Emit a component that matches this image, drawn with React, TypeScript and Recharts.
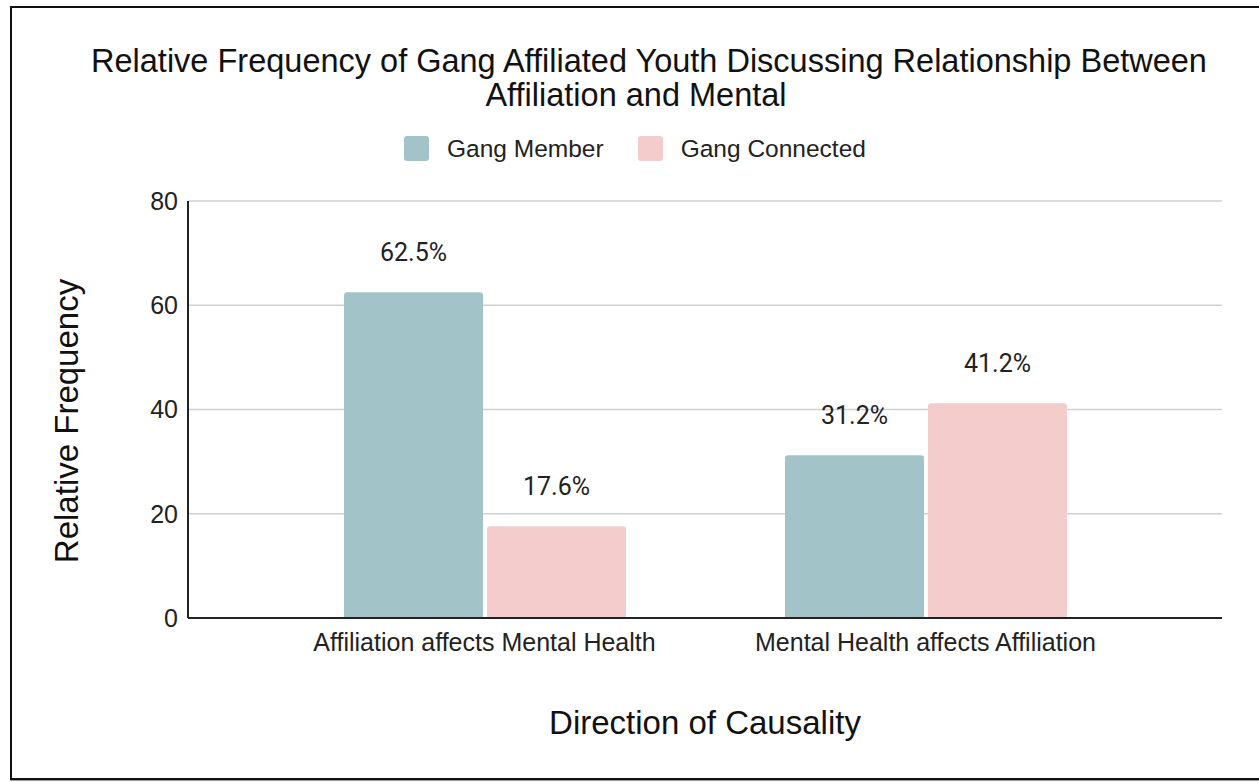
import { Bar, BarChart, CartesianGrid, LabelList, Legend, XAxis, YAxis } from "recharts";

const categories = ["Affiliation affects Mental Health", "Mental Health affects Affiliation"];
const gangMember = [62.5, 31.2];
const gangConnected = [17.6, 41.2];
const yTicks = [0, 20, 40, 60, 80];

const seriesNames = ["Gang Member", "Gang Connected"];
const seriesColors = ["#a2c4c9", "#f4cccc"];

const data = categories.map((name, i) => ({
  name,
  member: gangMember[i],
  connected: gangConnected[i],
}));

const SANS = "'Liberation Sans', Arial, sans-serif";

function LegendContent() {
  return (
    <div
      style={{
        display: "flex",
        justifyContent: "center",
        alignItems: "center",
        paddingLeft: 11,
        fontFamily: SANS,
        fontSize: 24.5,
        color: "#222",
      }}
    >
      {seriesNames.map((n, i) => (
        <div key={n} style={{ display: "flex", alignItems: "center", marginLeft: i ? 34 : 0 }}>
          <span
            style={{
              width: 25,
              height: 25,
              borderRadius: 3,
              background: seriesColors[i],
              marginRight: 18,
              display: "inline-block",
            }}
          />
          <span>{n}</span>
        </div>
      ))}
    </div>
  );
}

export default function App() {
  return (
    <div style={{ position: "fixed", left: 0, top: 0, width: 1259, height: 782, background: "#fff", overflow: "hidden" }}>
      <div
        style={{
          position: "absolute",
          left: 10,
          top: 6,
          width: 1300,
          height: 770,
          border: "2px solid #111",
          boxShadow: "0 1px 0 #999",
        }}
      />
      <div style={{ position: "absolute", left: 0, top: 0 }}>
        <BarChart
          width={1259}
          height={782}
          data={data}
          margin={{ top: 201, right: 37, bottom: 104, left: 20 }}
          barGap={4}
          barSize={139}
        >
          <text x={649} y={72} textAnchor="middle" fontFamily={SANS} fontSize={32.5} fill="#111">
            Relative Frequency of Gang Affiliated Youth Discussing Relationship Between
          </text>
          <text x={636} y={106} textAnchor="middle" fontFamily={SANS} fontSize={32.5} fill="#111">
            Affiliation and Mental
          </text>
          <text x={705} y={734} textAnchor="middle" fontFamily={SANS} fontSize={33} fill="#111">
            Direction of Causality
          </text>
          <text
            x={78}
            y={421}
            textAnchor="middle"
            fontFamily={SANS}
            fontSize={33}
            fill="#111"
            transform="rotate(-90, 78, 421)"
          >
            Relative Frequency
          </text>
          <CartesianGrid vertical={false} stroke="#d0d0d0" strokeWidth={1.5} />
          <XAxis
            dataKey="name"
            height={60}
            padding={{ left: 76, right: 76 }}
            tickLine={false}
            tickSize={6}
            tickMargin={9}
            axisLine={{ stroke: "#222", strokeWidth: 2 }}
            tick={{ fontFamily: SANS, fontSize: 25, fill: "#222" }}
          />
          <YAxis
            width={168}
            domain={[0, 80]}
            ticks={yTicks}
            tickLine={false}
            tickSize={6}
            tickMargin={4}
            axisLine={{ stroke: "#222", strokeWidth: 2 }}
            tick={{ fontFamily: SANS, fontSize: 25, fill: "#222" }}
          />
          <Legend
            verticalAlign="middle"
            align="center"
            layout="horizontal"
            wrapperStyle={{ top: 136, left: 0, width: 1259, lineHeight: "25px" }}
            content={() => <LegendContent />}
          />
          <Bar dataKey="member" name={seriesNames[0]} fill={seriesColors[0]} radius={[3, 3, 0, 0]} isAnimationActive={false}>
            <LabelList
              dataKey="member"
              position="top"
              offset={31}
              formatter={(v: any) => `${v}%`}
              style={{ fontFamily: "Roboto", fontSize: 25, fill: "#222" }}
            />
          </Bar>
          <Bar dataKey="connected" name={seriesNames[1]} fill={seriesColors[1]} radius={[3, 3, 0, 0]} isAnimationActive={false}>
            <LabelList
              dataKey="connected"
              position="top"
              offset={31}
              formatter={(v: any) => `${v}%`}
              style={{ fontFamily: "Roboto", fontSize: 25, fill: "#222" }}
            />
          </Bar>
        </BarChart>
      </div>
    </div>
  );
}
